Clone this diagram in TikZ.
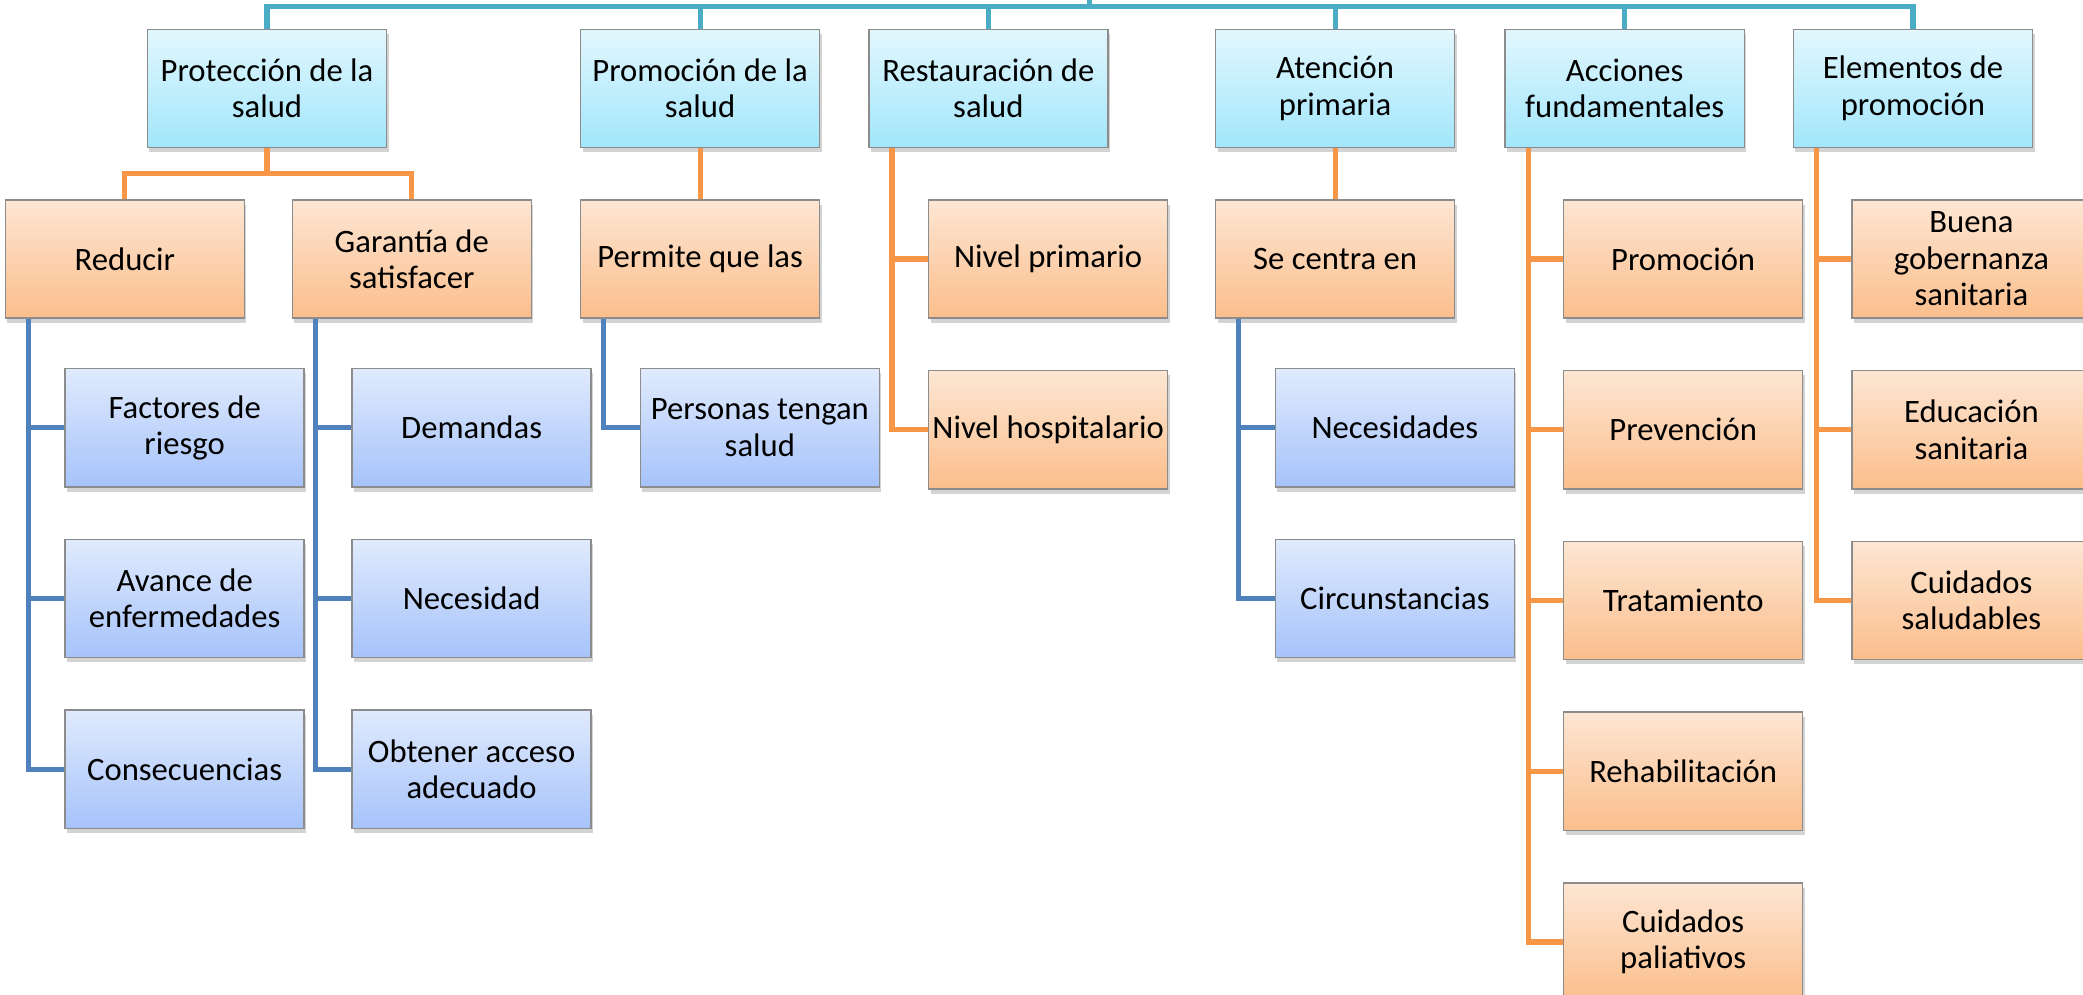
\documentclass[tikz,border=0pt]{standalone}
\usepackage{fontspec}
\setmainfont{Carlito}
\usetikzlibrary{shadows,positioning}
\definecolor{lineaTema}{HTML}{4BACC6}
\definecolor{lineaNaranja}{HTML}{F79646}
\definecolor{lineaAzul}{HTML}{4F81BD}
\definecolor{temaA}{HTML}{E2F7FD}
\definecolor{temaB}{HTML}{A2E6FB}
\definecolor{ramaA}{HTML}{FDE6D3}
\definecolor{ramaB}{HTML}{FBBE8C}
\definecolor{hojaA}{HTML}{E0EAFD}
\definecolor{hojaB}{HTML}{A6C3FA}
\definecolor{borde}{HTML}{8C8C8C}

\begin{document}
\begin{tikzpicture}[x=0.02cm,y=-0.02cm,node distance=0.77cm]
  \tikzset{caja/.style={rectangle, draw=borde, line width=0.6pt,
		minimum width=3.6cm, minimum height=1.78cm, inner sep=0.5pt,
		align=center, font=\fontsize{14}{15.6}\selectfont,
		drop shadow={opacity=0.35,shadow xshift=0.03cm,shadow yshift=-0.07cm}}, }
\tikzset{tema node/.style={caja, top color=temaA, bottom color=temaB}, }
\tikzset{rama node/.style={caja, top color=ramaA, bottom color=ramaB}, }
\tikzset{hoja node/.style={caja, top color=hojaA, bottom color=hojaB}, }
\tikzset{linea tema/.style={draw=lineaTema, line width=2.2pt},}
\tikzset{linea naranja/.style={draw=lineaNaranja, line width=2.2pt},}
\tikzset{linea azul/.style={draw=lineaAzul, line width=2.2pt},}
  \useasboundingbox (0,0) rectangle (1568,749);
    \node[tema node] (1) at (201,66.5) {Protección de la\\salud};
    \node[tema node] (2) at (527,66.5) {Promoción de la\\salud};
    \node[tema node] (3) at (744,66.5) {Restauración de\\salud};
    \node[tema node] (4) at (1005,66.5) {Atención\\primaria};
    \node[tema node] (5) at (1223,66.5) {Acciones\\fundamentales};
    \node[tema node] (6) at (1440,66.5) {Elementos de\\promoción};
%
   \node[rama node] (7) at (94,195) {Reducir};
   \node[rama node] (8) at (310,195) {Garantía de\\satisfacer};
   \node[rama node] (9) [below =of 2] {Permite que las};
   \node[rama node] (10) at (789,195) {Nivel primario};
   \node[rama node] (11) [below =of 10] {Nivel hospitalario};
   \node[rama node] (12) [below =of 4] {Se centra en};
   \node[rama node] (13) at (1267,195) {Promoción};
   \node[rama node] (14) [below =of 13] {Prevención};
   \node[rama node] (15) [below =of 14] {Tratamiento};
   \node[rama node] (16) [below =of 15] {Rehabilitación};
   \node[rama node] (17) [below =of 16] {Cuidados\\paliativos};
   \node[rama node] (18) at (1484,195) {Buena\\gobernanza\\sanitaria};
   \node[rama node] (19) [below =of 18] {Educación\\sanitaria};
   \node[rama node] (20) [below =of 19] {Cuidados\\saludables};
%
   \node[hoja node] (21) at (139,322) {Factores de\\riesgo};
   \node[hoja node] (22) [below =of 21] {Avance de\\enfermedades};
   \node[hoja node] (23) [below =of 22] {Consecuencias};
   \node[hoja node] (24) at (355,322) {Demandas};
   \node[hoja node] (25) [below =of 24] {Necesidad};
   \node[hoja node] (26) [below =of 25] {Obtener acceso\\adecuado};
   \node[hoja node] (27) at (572,322) {Personas tengan\\salud};
   \node[hoja node] (28) at (1050,322) {Necesidades};
   \node[hoja node] (29) [below =of 28] {Circunstancias};
%
\coordinate (r) at (820,0);
\coordinate (b) at (820,5);
\draw[linea tema] (r) -- (b);
\foreach \y in {1,...,6}
  \draw[linea tema] (b) -| (\y);
%
\foreach \y in {7,8}
  \draw[linea naranja] (1.south) -- ++(0,19) -| (\y);
\foreach \x /\y in {2/9,4/12}
  \draw[linea naranja] (\x) -- (\y);
\foreach \x /\y in {3/10,3/11,5/13,5/14,5/15,5/16,5/17,6/18,6/19,6/20}
  \draw[linea naranja] ([xshift=0.36cm]\x.south west) |- (\y);
\foreach \x /\y in {7/21,7/22,7/23,8/24,8/25,8/26,9/27,12/28,12/29}
  \draw[linea azul] ([xshift=0.36cm]\x.south west) |- (\y);
%
\end{tikzpicture}
\end{document}
